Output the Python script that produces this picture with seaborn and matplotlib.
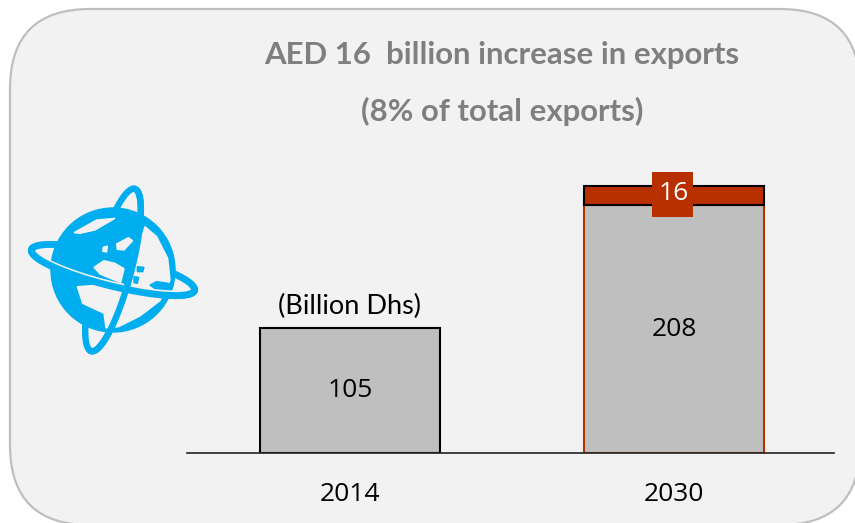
import numpy as np
import pandas as pd
import matplotlib
matplotlib.use("Agg")
import matplotlib.pyplot as plt
from matplotlib.patches import FancyBboxPatch, Circle, Polygon, Rectangle
import seaborn as sns

years = ["2014", "2030"]
base_values = [105, 208]
increase_year = ["2030"]
increase_values = [16]
title_lines = ["AED 16  billion increase in exports", "(8% of total exports)"]
unit_label = "(Billion Dhs)"

panel_color = "#F2F2F2"
panel_edge = "#BFBFBF"
bar_grey = "#BFBFBF"
accent = "#B83000"
globe_blue = "#00AEEF"
W, H = 855, 523


def ring(center, a, b, angle, t0, t1):
    t = np.radians(np.linspace(t0, t1, 120))
    ang = np.radians(angle)
    x = center[0] + a * np.cos(t) * np.cos(ang) - b * np.sin(t) * np.sin(ang)
    y = center[1] + a * np.cos(t) * np.sin(ang) + b * np.sin(t) * np.cos(ang)
    return x, y


def crop(points):
    # globe outline was traced on a 3x crop starting at (0, 170)
    return [(px / 3, py / 3 + 170) for px, py in points]


def draw_globe(ax):
    c = (113, 270)
    ring1 = dict(center=c, a=84, b=16, angle=14)
    ring2 = dict(center=c, a=84, b=18, angle=105)

    ax.plot(*ring(t0=0, t1=360, **ring1), color=globe_blue, lw=5, zorder=2)
    ax.plot(*ring(t0=0, t1=360, **ring2), color=globe_blue, lw=4.6, zorder=2)
    ax.add_patch(Circle(c, 62, color=globe_blue, zorder=3))

    # sea and land cut out of the disc
    light_shapes = [
        [(435, 170), (470, 200), (503, 265), (510, 330), (480, 392), (420, 438), (356, 470),
         (318, 474), (312, 430), (248, 400), (232, 350), (300, 345), (380, 345), (410, 250)],
        [(222, 188), (290, 150), (345, 145), (285, 180), (240, 190)],
        [(282, 292), (312, 272), (345, 280), (372, 296), (362, 338), (300, 312)],
        [(350, 222), (385, 203), (398, 212), (372, 240), (352, 238)],
        [(310, 232), (322, 228), (320, 246), (308, 244)],
    ]
    for shape in light_shapes:
        ax.add_patch(Polygon(crop(shape), color=panel_color, zorder=4))
    blue_shapes = [
        [(412, 290), (432, 292), (428, 305), (412, 305)],
        [(450, 345), (470, 335), (505, 340), (500, 362), (470, 360)],
        [(402, 320), (416, 322), (412, 340), (402, 338)],
    ]
    for shape in blue_shapes:
        ax.add_patch(Polygon(crop(shape), color=globe_blue, zorder=5))

    hx, hy = ring(t0=20, t1=160, **ring1)
    ax.plot(hx, hy - 2, color=panel_color, lw=4.5, zorder=6)
    ax.plot(*ring(t0=-8, t1=188, **ring1), color=globe_blue, lw=5, zorder=7)
    ax.plot(*ring(t0=172, t1=368, **ring2), color=globe_blue, lw=4.6, zorder=7)


sns.set_style("white")
plt.rcParams["font.family"] = ["Open Sans", "DejaVu Sans"]

fig = plt.figure(figsize=(W / 100, H / 100), dpi=100, facecolor="white")

# pixel-space layer for the panel, the icon and the heading
bg = fig.add_axes([0, 0, 1, 1], zorder=0)
bg.set_xlim(0, W)
bg.set_ylim(H, 0)
bg.axis("off")
bg.add_patch(FancyBboxPatch((90, 89), 690, 356, boxstyle="round,pad=80,rounding_size=80",
                            facecolor=panel_color, edgecolor=panel_edge, lw=1.6))
draw_globe(bg)
for line, ypos in zip(title_lines, [55, 111]):
    bg.text(502, ypos, line, ha="center", va="center", color="#7F7F7F",
            fontsize=22.4, fontweight="bold", family=["Lato", "DejaVu Sans"])

# chart axes: baseline at y=453, from x=187 to x=834
ax = fig.add_axes([187 / W, (H - 453) / H, (834 - 187) / W, (453 - 160) / H], zorder=1)
ax.patch.set_alpha(0)

sns.barplot(x=years[:1], y=base_values[:1], order=years, width=0.556, color=bar_grey,
            saturation=1, edgecolor="black", linewidth=1.5, ax=ax)
sns.barplot(x=years[1:], y=base_values[1:], order=years, width=0.556, color=bar_grey,
            saturation=1, edgecolor=accent, linewidth=1.5, ax=ax)
sns.barplot(x=increase_year, y=increase_values, order=years, width=0.556, color=accent,
            saturation=1, edgecolor="black", linewidth=1.5, bottom=base_values[1], ax=ax)

ax.set_xlim(-0.503, 1.494)
ax.set_ylim(0, 246.1)
ax.set_xlabel("")
ax.set_ylabel("")
ax.set_yticks([])
sns.despine(ax=ax, left=True)
ax.spines["bottom"].set_color("#222222")
ax.spines["bottom"].set_linewidth(1.2)
ax.tick_params(axis="x", length=0, pad=21, labelsize=19, colors="black")

ax.bar_label(ax.containers[0], label_type="center", fontsize=19, color="black")
ax.bar_label(ax.containers[1], label_type="center", fontsize=19, color="black")
# square tag behind the 16, it overhangs the bar above and below
ax.add_patch(Rectangle((652 / W, (H - 217) / H), 41 / W, 45 / H, transform=fig.transFigure,
                       facecolor=accent, edgecolor="none", zorder=5, clip_on=False))
ax.bar_label(ax.containers[2], label_type="center", fontsize=19, color="white", padding=2, zorder=6)
ax.annotate(unit_label, xy=(0, base_values[0]), xytext=(0, 22), textcoords="offset pixels",
            ha="center", va="center", fontsize=19.5, color="black", family=["Lato", "DejaVu Sans"])

fig.savefig("out.png", dpi=100)
